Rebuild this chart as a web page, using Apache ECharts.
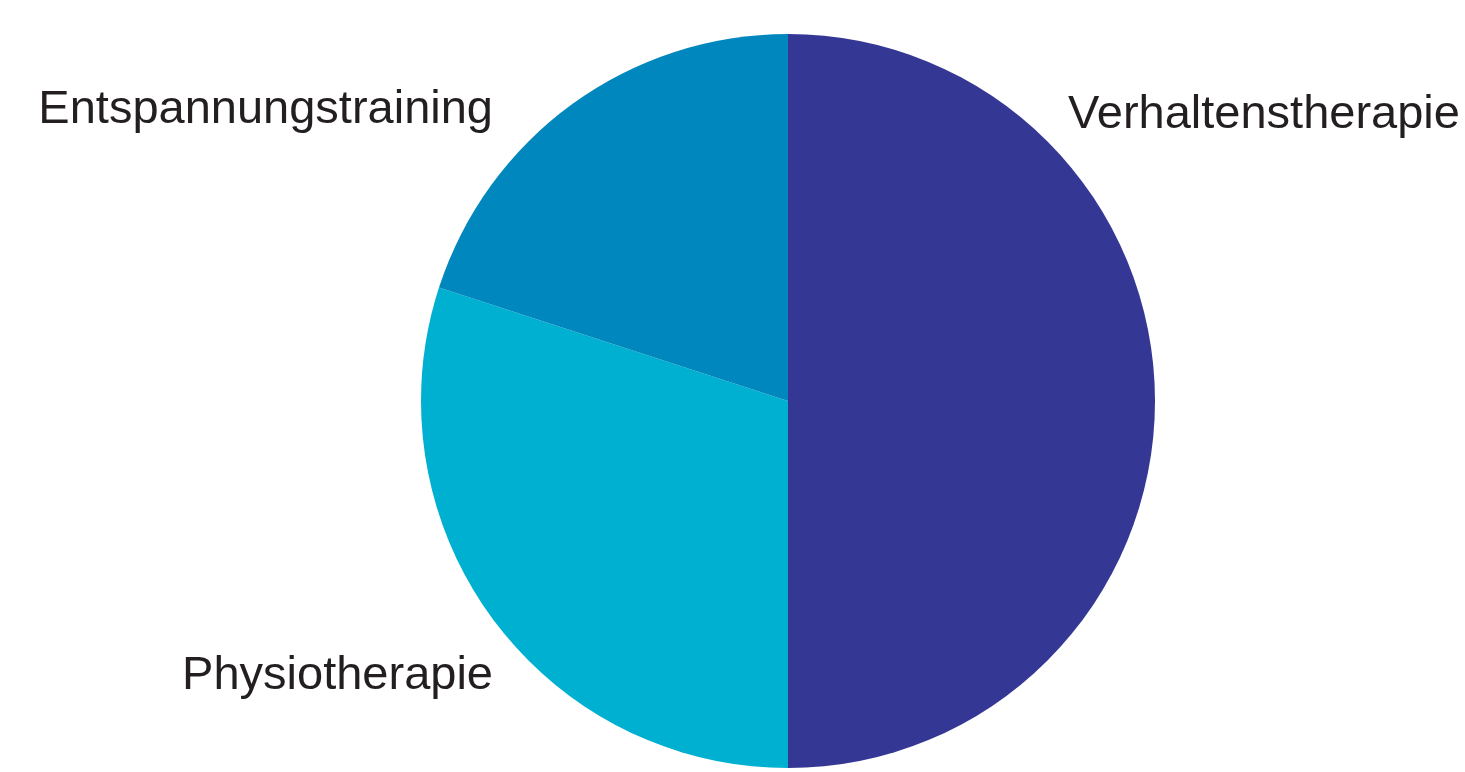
<!DOCTYPE html>
<html>
<head>
<meta charset="utf-8">
<script src="https://cdn.jsdelivr.net/npm/echarts@6/dist/echarts.min.js"></script>
<style>
  html, body { margin: 0; padding: 0; background: #ffffff; }
  #chart { width: 1465px; height: 772px; }
</style>
</head>
<body>
<div id="chart"></div>
<script>
// Share of therapy types (percent), clockwise from 12 o'clock
const categories = ['Verhaltenstherapie', 'Physiotherapie', 'Entspannungstraining'];
const shares = [50, 30, 20];
const colors = ['#343894', '#00b0d0', '#0087bd'];

// Label anchors (px) and text alignment for each slice
const labelAnchors = [
  { x: 1068, y: 115, align: 'left' },
  { x: 493, y: 676, align: 'right' },
  { x: 493, y: 110, align: 'right' }
];

const chart = echarts.init(document.getElementById('chart'), null, { renderer: 'canvas' });

chart.setOption({
  backgroundColor: '#ffffff',
  animation: false,
  series: [{
    type: 'pie',
    center: [788, 401],
    radius: 367,
    startAngle: 90,
    clockwise: true,
    silent: true,
    data: categories.map((name, i) => ({
      name: name,
      value: shares[i],
      itemStyle: { color: colors[i] }
    })),
    itemStyle: { borderWidth: 0 },
    label: {
      show: true,
      position: 'outside',
      formatter: '{b}',
      color: '#231f20',
      fontFamily: 'Liberation Sans, Arial, Helvetica, sans-serif',
      fontSize: 47,
      lineHeight: 47,
      overflow: 'none',
      width: 600
    },
    labelLine: { show: false },
    labelLayout: function (params) {
      const a = labelAnchors[params.dataIndex];
      return { x: a.x, y: a.y, align: a.align, verticalAlign: 'middle', width: 600 };
    }
  }]
});
</script>
</body>
</html>
